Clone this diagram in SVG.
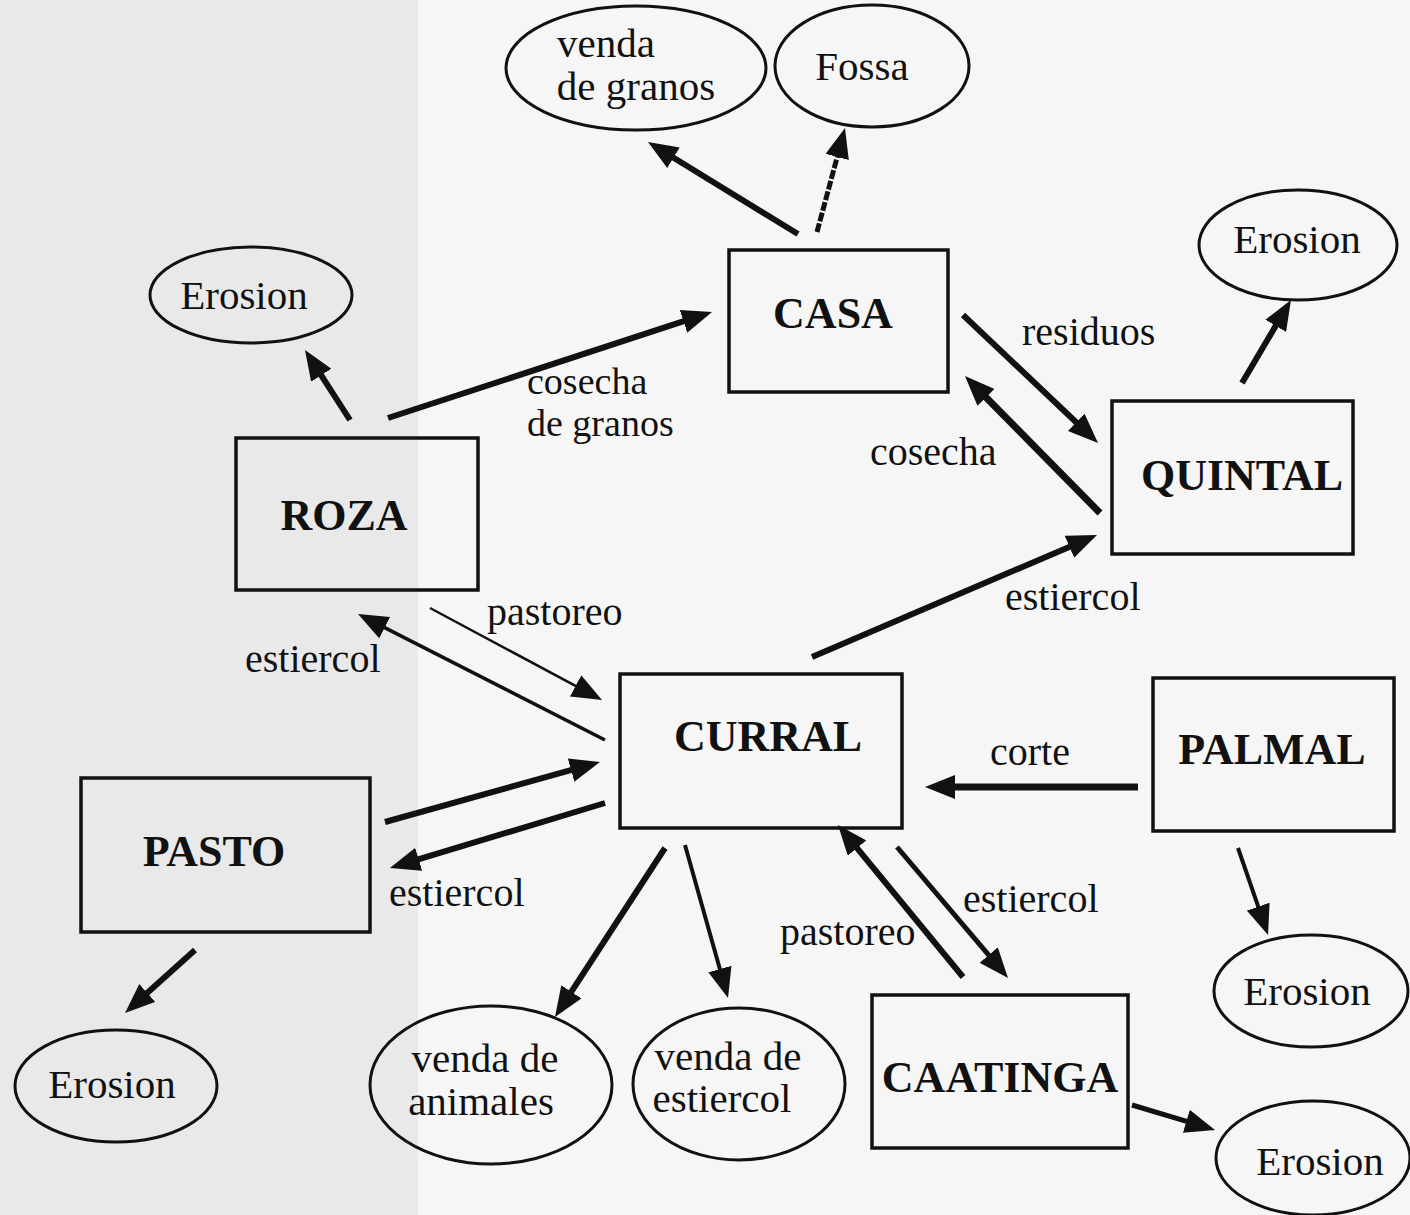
<svg xmlns="http://www.w3.org/2000/svg" width="1410" height="1215" viewBox="0 0 1410 1215">
<style>
.box{fill:none;stroke:#111;stroke-width:3.5}
.ell{fill:none;stroke:#111;stroke-width:3}
.nl{font-family:"Liberation Serif","Times New Roman",serif;font-weight:bold;font-size:44px;fill:#111;text-anchor:middle}
.el{font-family:"Liberation Serif","Times New Roman",serif;font-size:41px;fill:#111;text-anchor:middle}
.lb{font-family:"Liberation Serif","Times New Roman",serif;font-size:40px;fill:#111}
.ar{stroke:#111;stroke-width:6;fill:none;marker-end:url(#ah)}
</style>
<defs>
<marker id="ah" viewBox="0 0 30 24" refX="10" refY="12" markerUnits="userSpaceOnUse" markerWidth="30" markerHeight="24" orient="auto">
<path d="M0,0 L30,12 L0,24 z" fill="#111"/>
</marker>
</defs>
<rect x="0" y="0" width="1410" height="1215" fill="#f6f6f6"/>
<rect x="0" y="0" width="418" height="1215" fill="#e9e9e9"/>

<g id="casa"><rect class="box" x="729" y="250" width="219" height="142"/><text class="nl" x="833" y="328">CASA</text></g>
<g id="roza"><rect class="box" x="236" y="438" width="242" height="152"/><text class="nl" x="344" y="530">ROZA</text></g>
<g id="quintal"><rect class="box" x="1112" y="401" width="241" height="153"/><text class="nl" x="1242" y="490">QUINTAL</text></g>
<g id="curral"><rect class="box" x="620" y="674" width="282" height="154"/><text class="nl" x="768" y="751">CURRAL</text></g>
<g id="palmal"><rect class="box" x="1153" y="678" width="241" height="153"/><text class="nl" x="1272" y="764">PALMAL</text></g>
<g id="pasto"><rect class="box" x="81" y="778" width="289" height="154"/><text class="nl" x="214" y="866">PASTO</text></g>
<g id="caatinga"><rect class="box" x="872" y="995" width="256" height="153"/><text class="nl" x="1000" y="1092">CAATINGA</text></g>

<g id="venda-granos"><ellipse class="ell" cx="636" cy="68" rx="130" ry="62"/><text class="el" x="606" y="57">venda</text><text class="el" x="636" y="100">de granos</text></g>
<g id="fossa"><ellipse class="ell" cx="872" cy="66" rx="97" ry="61"/><text class="el" x="862" y="80">Fossa</text></g>
<g id="erosion-roza"><ellipse class="ell" cx="251" cy="295" rx="101" ry="48"/><text class="el" x="244" y="309">Erosion</text></g>
<g id="erosion-quintal"><ellipse class="ell" cx="1298" cy="245" rx="99" ry="55"/><text class="el" x="1297" y="253">Erosion</text></g>
<g id="erosion-palmal"><ellipse class="ell" cx="1311" cy="991" rx="97" ry="56"/><text class="el" x="1307" y="1005">Erosion</text></g>
<g id="erosion-caatinga"><ellipse class="ell" cx="1313" cy="1158" rx="97" ry="57"/><text class="el" x="1320" y="1175">Erosion</text></g>
<g id="erosion-pasto"><ellipse class="ell" cx="116" cy="1086" rx="101" ry="56"/><text class="el" x="112" y="1098">Erosion</text></g>
<g id="venda-animales"><ellipse class="ell" cx="491" cy="1085" rx="121" ry="79"/><text class="el" x="485" y="1072">venda de</text><text class="el" x="481" y="1115">animales</text></g>
<g id="venda-estiercol"><ellipse class="ell" cx="739" cy="1084" rx="106" ry="76"/><text class="el" x="728" y="1070">venda de</text><text class="el" x="722" y="1112">estiercol</text></g>

<g id="connectors">
<line class="ar" x1="798" y1="234" x2="665" y2="152.5"/>
<line class="ar" x1="817" y1="232" x2="839.8" y2="147.3" style="stroke-width:5;stroke-dasharray:9 2"/>
<line class="ar" x1="350" y1="420" x2="315.8" y2="366.8"/>
<line class="ar" x1="388" y1="418" x2="693" y2="318.2"/>
<line class="ar" x1="963" y1="315" x2="1083.5" y2="429.2"/>
<line class="ar" x1="1100" y1="513" x2="979" y2="390.2" style="stroke-width:7"/>
<line class="ar" x1="812" y1="657" x2="1078.6" y2="542.9"/>
<line class="ar" x1="1242" y1="383" x2="1280.8" y2="317.2"/>
<line class="ar" x1="430" y1="608" x2="584.4" y2="690.6" style="stroke-width:2.5"/>
<line class="ar" x1="605" y1="740" x2="375.8" y2="623.1" style="stroke-width:3.5"/>
<line class="ar" x1="385" y1="822" x2="580.7" y2="767.4"/>
<line class="ar" x1="605" y1="803" x2="409.1" y2="862.2"/>
<line class="ar" x1="1138" y1="787" x2="945" y2="787" style="stroke-width:7"/>
<line class="ar" x1="665" y1="848" x2="565.9" y2="1000.2"/>
<line class="ar" x1="685" y1="845" x2="722.6" y2="978.7" style="stroke-width:4"/>
<line class="ar" x1="963" y1="977" x2="850.7" y2="840.4"/>
<line class="ar" x1="897" y1="847" x2="995.1" y2="962.7" style="stroke-width:5"/>
<line class="ar" x1="1238" y1="848" x2="1261.5" y2="916.1" style="stroke-width:4"/>
<line class="ar" x1="1132" y1="1105" x2="1195.9" y2="1124.2" style="stroke-width:5"/>
<line class="ar" x1="195" y1="950" x2="139.9" y2="999.6"/>
</g>

<g id="labels">
<text class="lb" x="527" y="394" style="font-size:38px">cosecha</text>
<text class="lb" x="527" y="436" style="font-size:38px">de granos</text>
<text class="lb" x="1022" y="345">residuos</text>
<text class="lb" x="870" y="465">cosecha</text>
<text class="lb" x="1005" y="610">estiercol</text>
<text class="lb" x="487" y="625">pastoreo</text>
<text class="lb" x="245" y="672">estiercol</text>
<text class="lb" x="990" y="765">corte</text>
<text class="lb" x="389" y="906">estiercol</text>
<text class="lb" x="963" y="912">estiercol</text>
<text class="lb" x="780" y="945">pastoreo</text>
</g>
</svg>
